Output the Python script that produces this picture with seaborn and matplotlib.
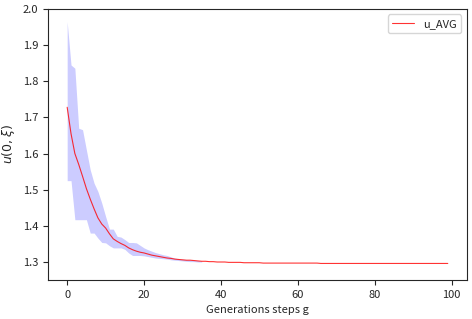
import matplotlib
matplotlib.use("Agg")
import matplotlib.pyplot as plt
import seaborn as sns
import pandas as pd

# average of u(0, xi) over the generations
u_avg = [1.728, 1.655, 1.600, 1.570, 1.537, 1.503, 1.474, 1.447, 1.422, 1.405,
         1.394, 1.378, 1.364, 1.357, 1.351, 1.346, 1.339, 1.334, 1.330, 1.327,
         1.325, 1.322, 1.319, 1.317, 1.315, 1.313, 1.311, 1.310, 1.308, 1.307,
         1.306, 1.305, 1.305, 1.304, 1.303, 1.302, 1.302, 1.301, 1.301, 1.300,
         1.300, 1.300, 1.299, 1.299, 1.299, 1.299, 1.298, 1.298, 1.298, 1.298,
         1.298, 1.297, 1.297, 1.297, 1.297, 1.297, 1.297, 1.297, 1.297, 1.297,
         1.297, 1.297, 1.297, 1.297, 1.297, 1.297, 1.296, 1.296, 1.296, 1.296,
         1.296, 1.296, 1.296, 1.296, 1.296, 1.296, 1.296, 1.296, 1.296, 1.296,
         1.296, 1.296, 1.296, 1.296, 1.296, 1.296, 1.296, 1.296, 1.296, 1.296,
         1.296, 1.296, 1.296, 1.296, 1.296, 1.296, 1.296, 1.296, 1.296, 1.296]

# min / max envelope (only visible for the first generations)
u_max = [1.965, 1.845, 1.836, 1.670, 1.666, 1.610, 1.555, 1.518, 1.495, 1.463,
         1.426, 1.391, 1.391, 1.371, 1.369, 1.362, 1.354, 1.354, 1.353, 1.346,
         1.339, 1.334, 1.330, 1.326, 1.323, 1.320, 1.318, 1.314, 1.311, 1.309,
         1.308, 1.307, 1.306, 1.305, 1.304, 1.303]
u_min = [1.525, 1.525, 1.417, 1.417, 1.417, 1.417, 1.380, 1.380, 1.366, 1.354,
         1.353, 1.345, 1.339, 1.339, 1.339, 1.335, 1.325, 1.318, 1.318, 1.318,
         1.317, 1.315, 1.313, 1.311, 1.310, 1.309, 1.308, 1.306, 1.305, 1.304,
         1.303, 1.302, 1.301, 1.301, 1.300, 1.300]

generations = list(range(len(u_avg)))
df = pd.DataFrame({"g": generations, "u": u_avg})

sns.set_style("ticks")
plt.rcParams['font.family'] = ['Noto Sans CJK SC', 'DejaVu Sans']
plt.rcParams['font.size'] = 8

fig = plt.figure(figsize=(4.72, 3.19), dpi=100)
ax = fig.add_axes([0.102, 0.122, 0.887, 0.850])

ax.fill_between(generations[:len(u_max)], u_min, u_max, color='blue', alpha=0.2, linewidth=0)
sns.lineplot(data=df, x="g", y="u", color='red', linewidth=0.8, alpha=0.8, label='u_AVG', ax=ax)

ax.set_ylim(1.25, 2.0)
ax.set_xlim(-4.95, 103.95)
ax.set_xlabel('Generations steps g', fontsize=8)
ax.set_ylabel(r'$u(0,\xi)$', fontsize=9)
ax.tick_params(labelsize=8)
ax.legend(loc='upper right', fontsize=8)

fig.savefig('out.png', dpi=100)
